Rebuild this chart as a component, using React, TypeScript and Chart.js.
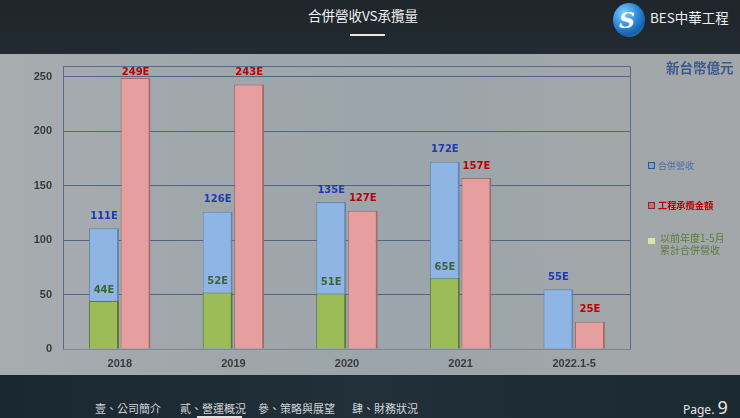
import React, { useEffect, useRef } from 'react';
import { Chart, registerables } from 'chart.js';

Chart.register(...registerables);

// ---- data ----
const categories = ['2018', '2019', '2020', '2021', '2022.1-5'];
const revenue = [111, 126, 135, 172, 55];
const contracts = [249, 243, 127, 157, 25];
const priorRevenue: (number | null)[] = [44, 52, 51, 65, null];
const yTicks = [0, 50, 100, 150, 200, 250];
const yMax = 260;

const labelPlugin = {
  id: 'valueLabels',
  afterDatasetsDraw(chart: any) {
    const ctx = chart.ctx;
    const area = chart.chartArea;
    ctx.save();
    ctx.font = 'bold 10px "DejaVu Sans", Verdana, sans-serif';
    ctx.textAlign = 'center';
    ctx.textBaseline = 'middle';
    const colors = ['#3f6336', '#1d3bb3', '#c00000'];
    chart.data.datasets.forEach((ds: any, di: number) => {
      const meta = chart.getDatasetMeta(di);
      meta.data.forEach((el: any, i: number) => {
        const v = ds.data[i];
        if (v === null || v === undefined) return;
        let y = el.y - (di === 0 ? 11 : 12);
        y = Math.max(y, area.top + 6);
        ctx.fillStyle = colors[di];
        ctx.fillText(v + 'E', el.x, y);
      });
    });
    ctx.restore();
  },
};

const borderPlugin = {
  id: 'plotBorder',
  beforeDatasetsDraw(chart: any) {
    const { ctx, chartArea: a } = chart;
    ctx.save();
    ctx.strokeStyle = '#566c8c';
    ctx.lineWidth = 1;
    ctx.beginPath();
    ctx.moveTo(a.left + 0.5, a.bottom);
    ctx.lineTo(a.left + 0.5, a.top + 0.5);
    ctx.lineTo(a.right - 0.5, a.top + 0.5);
    ctx.lineTo(a.right - 0.5, a.bottom);
    ctx.stroke();
    ctx.strokeStyle = '#7e878d';
    ctx.beginPath();
    ctx.moveTo(a.left, a.bottom + 0.5);
    ctx.lineTo(a.right, a.bottom + 0.5);
    ctx.stroke();
    ctx.restore();
  },
};

export default function App() {
  const ref = useRef<HTMLCanvasElement>(null);
  useEffect(() => {
    document.body.style.margin = '0';
    const bw = { top: 1, left: 1, right: 2, bottom: 0 };
    const chart = new Chart(ref.current as HTMLCanvasElement, {
      type: 'bar',
      data: {
        labels: categories,
        datasets: [
          {
            label: '以前年度1-5月累計合併營收',
            data: priorRevenue,
            stack: 'a',
            backgroundColor: '#9cbc58',
            borderColor: '#5f7a2e',
            borderWidth: bw,
          },
          {
            label: '合併營收',
            data: revenue,
            stack: 'a',
            backgroundColor: '#8fb5e4',
            borderColor: '#6485b3',
            borderWidth: bw,
          },
          {
            label: '工程承攬金額',
            data: contracts,
            stack: 'b',
            backgroundColor: '#e69e9e',
            borderColor: '#a56a6a',
            borderWidth: bw,
          },
        ],
      },
      options: {
        animation: false,
        responsive: false,
        maintainAspectRatio: false,
        layout: { padding: { left: 0, top: 12, right: 109, bottom: 0 } },
        plugins: { legend: { display: false }, tooltip: { enabled: false } },
        datasets: { bar: { categoryPercentage: 0.555, barPercentage: 0.95 } } as any,
        scales: {
          x: {
            stacked: true,
            grid: { display: false, drawTicks: false },
            border: { display: false },
            afterFit: (s: any) => { s.height = 26; },
            ticks: {
              padding: 8,
              color: '#3a3a3a',
              font: { family: '"Liberation Sans", Arial, sans-serif', size: 11, weight: 'bold' },
            },
          },
          y: {
            stacked: false,
            min: 0,
            max: yMax,
            afterBuildTicks: (s: any) => { s.ticks = yTicks.map((v) => ({ value: v })); },
            afterFit: (s: any) => { s.width = 63; s.paddingTop = 0; s.paddingBottom = 0; },
            grid: {
              drawTicks: false,
              color: (c: any) => (c.tick && c.tick.value === 0 ? '#7e878d' : '#4f6687'),
            },
            border: { display: false },
            ticks: {
              padding: 11,
              color: '#3a3a3a',
              font: { family: '"Liberation Sans", Arial, sans-serif', size: 11, weight: 'bold' },
            },
          },
        },
      },
      plugins: [borderPlugin, labelPlugin],
    } as any);
    return () => chart.destroy();
  }, []);

  const cjk = '"Noto Sans CJK TC", "Noto Sans", sans-serif';
  return (
    <div style={{ position: 'fixed', left: 0, top: 0, width: 740, height: 418, overflow: 'hidden', background: '#1c2a32', fontFamily: cjk }}>
      {/* header */}
      <div style={{ position: 'absolute', left: 0, top: 0, width: 740, height: 54, background: 'linear-gradient(180deg, #1e252b 0%, #222b31 100%)' }} />
      <div style={{ position: 'absolute', left: 263, top: 6, width: 200, textAlign: 'center', color: '#f2f2f2', fontSize: 13.5, lineHeight: '18px' }}>合併營收VS承攬量</div>
      <div style={{ position: 'absolute', left: 350, top: 34, width: 35, height: 2, background: '#e8e8e8' }} />
      <div style={{ position: 'absolute', left: 613, top: 3, width: 32, height: 34, borderRadius: '50%', background: 'radial-gradient(circle at 35% 30%, #7fd0ff 0%, #2a86d6 45%, #1b5fae 70%, #3fa642 100%)' }} />
      <div style={{ position: 'absolute', left: 619, top: 6, color: '#ffffff', fontSize: 22, fontStyle: 'italic', fontWeight: 'bold', lineHeight: '28px', fontFamily: '"DejaVu Serif", serif' }}>S</div>
      <div style={{ position: 'absolute', left: 650, top: 8, color: '#f0f0f0', fontSize: 13.5, lineHeight: '18px' }}>BES中華工程</div>

      {/* panel */}
      <div style={{ position: 'absolute', left: 0, top: 54, width: 740, height: 321, background: 'linear-gradient(90deg, #a7acaf 0%, #9ea6ab 35%, #9ba5ab 55%, #a1a6a9 80%, #a3a7aa 100%)' }}>
        <canvas ref={ref} width={740} height={321} style={{ display: 'block', width: 740, height: 321 }} />
      </div>

      {/* unit + legend */}
      <div style={{ position: 'absolute', left: 666, top: 58, color: '#3b5a8e', fontSize: 13.5, fontWeight: 'bold', lineHeight: '18px' }}>新台幣億元</div>
      <div style={{ position: 'absolute', left: 648, top: 162, width: 5, height: 5, background: '#7d9fd6', border: '1px solid #34548e' }} />
      <div style={{ position: 'absolute', left: 658, top: 159, color: '#4f6ea6', fontSize: 9, lineHeight: '13px' }}>合併營收</div>
      <div style={{ position: 'absolute', left: 648, top: 202, width: 5, height: 5, background: '#d46a6a', border: '1px solid #8e2a2a' }} />
      <div style={{ position: 'absolute', left: 658, top: 199, color: '#c00000', fontSize: 9.2, fontWeight: 'bold', lineHeight: '13px' }}>工程承攬金額</div>
      <div style={{ position: 'absolute', left: 648, top: 238, width: 7, height: 6, background: '#d9e6aa' }} />
      <div style={{ position: 'absolute', left: 660, top: 232, color: '#5d7a3c', fontSize: 10, lineHeight: '12px' }}>以前年度1-5月<br />累計合併營收</div>

      {/* footer */}
      <div style={{ position: 'absolute', left: 0, top: 375, width: 740, height: 43, background: 'linear-gradient(90deg, #1a2830 0%, #213039 50%, #1b2930 100%)' }} />
      <div style={{ position: 'absolute', left: 95, top: 402, color: '#cfd3d6', fontSize: 11, lineHeight: '13px', whiteSpace: 'nowrap' }}>壹、公司簡介</div>
      <div style={{ position: 'absolute', left: 180, top: 402, color: '#cfd3d6', fontSize: 11, lineHeight: '13px', whiteSpace: 'nowrap' }}>貳、營運概況</div>
      <div style={{ position: 'absolute', left: 197, top: 416, width: 45, height: 2, background: '#e0e0e0' }} />
      <div style={{ position: 'absolute', left: 258, top: 402, color: '#cfd3d6', fontSize: 11, lineHeight: '13px', whiteSpace: 'nowrap' }}>參、策略與展望</div>
      <div style={{ position: 'absolute', left: 352, top: 402, color: '#cfd3d6', fontSize: 11, lineHeight: '13px', whiteSpace: 'nowrap' }}>肆、財務狀況</div>
      <div style={{ position: 'absolute', left: 683, top: 397, color: '#e8e8e8', whiteSpace: 'nowrap', fontFamily: '"Noto Sans", sans-serif', lineHeight: '20px' }}>
        <span style={{ fontSize: 12 }}>Page. </span>
        <span style={{ fontSize: 18 }}>9</span>
      </div>
    </div>
  );
}
